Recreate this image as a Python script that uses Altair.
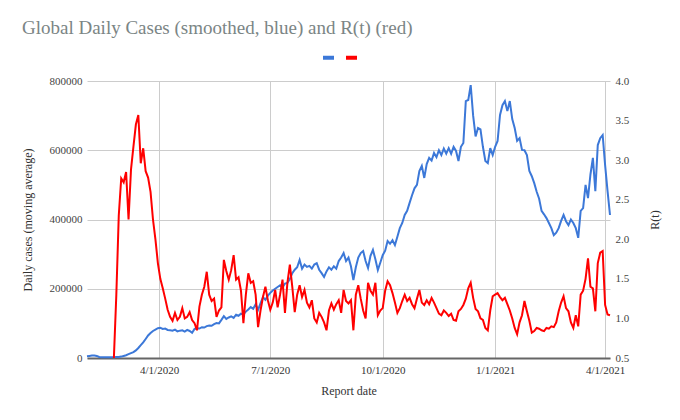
import altair as alt
import pandas as pd

title_text = "Global Daily Cases (smoothed, blue) and R(t) (red)"
series_names = ["Daily cases", "R(t)"]
series_colors = ["#3c78d8", "#ff0000"]
start_date = "2020-02-02"

# Daily cases (moving average), in thousands, every 2 days from 2020-02-02
cases_k = [
    5, 6, 7, 7, 6, 3, 2, 2, 2, 2,
    2, 2, 3, 3, 4, 6, 8, 11, 14, 17,
    22, 29, 37, 45, 55, 65, 72, 78, 82, 86,
    87, 84, 85, 81, 80, 79, 82, 77, 79, 80,
    76, 81, 78, 73, 84, 86, 85, 89, 88, 92,
    94, 93, 98, 101, 100, 110, 121, 113, 117, 120,
    116, 125, 122, 128, 126, 134, 140, 147, 142, 155,
    139, 158, 176, 168, 180, 188, 195, 200, 205, 210,
    203, 215, 217, 228, 245, 255, 262, 283, 258, 270,
    263, 266, 258, 270, 274, 255, 245, 234, 250, 262,
    255, 265, 258, 280, 290, 303, 280, 290, 265, 225,
    262, 290, 303, 309, 280, 260, 295, 312, 285, 254,
    275, 297, 310, 338, 330, 340, 326, 350, 375, 390,
    413, 425, 448, 470, 490, 500, 540, 555, 520, 560,
    578, 570, 592, 580, 600, 586, 605, 590, 606, 590,
    610, 598, 569, 610, 621, 742, 745, 788, 700, 640,
    664, 660, 610, 569, 563, 606, 586, 610, 627, 702,
    730, 742, 713, 742, 690, 664, 627, 635, 601, 600,
    586, 540, 525, 505, 480, 460, 425, 415, 404, 390,
    375, 355, 362, 375, 396, 413, 395, 384, 400, 390,
    375, 347, 425, 433, 500, 462, 530, 578, 482, 615,
    635, 644, 557, 482, 413,
]

# R(t), same 2-day dates, starting at the 12th date
rt_offset = 11
rt_values = [
    0.5, 1.30, 2.3, 2.77, 2.72, 2.85, 2.25, 2.88, 3.17, 3.45,
    3.57, 2.96, 3.15, 2.86, 2.78, 2.6, 2.25, 2.0, 1.7, 1.5,
    1.38, 1.25, 1.11, 1.02, 0.97, 1.07, 0.98, 1.02, 1.13, 1.0,
    1.02, 1.08, 0.98, 0.94, 0.85, 1.15, 1.30, 1.40, 1.59, 1.30,
    1.22, 1.25, 1.02, 1.10, 1.14, 1.74, 1.60, 1.49, 1.61, 1.80,
    1.49, 1.52, 1.35, 0.94, 1.30, 1.57, 1.45, 1.47, 1.30, 0.89,
    1.10, 1.27, 1.40, 1.23, 1.11, 1.20, 1.36, 1.14, 1.30, 1.49,
    1.07, 1.45, 1.68, 1.40, 1.08, 1.30, 1.42, 1.27, 1.36, 1.20,
    1.14, 1.23, 1.00, 0.95, 1.07, 1.02, 0.95, 0.85, 1.10, 1.19,
    1.11, 1.18, 1.23, 1.07, 1.36, 1.22, 1.19, 1.23, 0.85, 1.30,
    1.42, 1.25, 1.10, 1.00, 1.45, 1.35, 1.30, 1.45, 1.04, 1.10,
    1.13, 1.35, 1.47, 1.42, 1.32, 1.20, 1.07, 1.13, 1.22, 1.30,
    1.22, 1.26, 1.18, 1.13, 1.25, 1.36, 1.20, 1.17, 1.23, 1.18,
    1.26, 1.20, 1.13, 1.06, 1.04, 1.10, 1.07, 1.03, 1.06, 0.98,
    0.97, 1.09, 1.12, 1.17, 1.25, 1.38, 1.45, 1.26, 1.12, 1.09,
    1.00, 0.98, 0.88, 0.85, 1.10, 1.28, 1.30, 1.32, 1.27, 1.23,
    1.26, 1.18, 1.10, 1.00, 0.88, 0.80, 0.95, 1.04, 1.22, 1.09,
    0.97, 0.82, 0.84, 0.88, 0.87, 0.85, 0.84, 0.88, 0.87, 0.90,
    0.89, 0.95, 1.09, 1.20, 1.28, 1.13, 1.09, 0.95, 0.88, 1.04,
    0.90, 1.30, 1.35, 1.50, 1.76, 1.40, 1.38, 1.09, 1.70, 1.83,
    1.85, 1.17, 1.05, 1.04,
]

x_tick_dates = [(2020, 4, 1), (2020, 7, 1), (2020, 10, 1), (2021, 1, 1), (2021, 4, 1)]
cases_ticks = [0, 200000, 400000, 600000, 800000]
rt_ticks = [0.5, 1.0, 1.5, 2.0, 2.5, 3.0, 3.5, 4.0]

dates = pd.date_range(start_date, periods=len(cases_k), freq="2D").strftime("%Y-%m-%d")
df_cases = pd.DataFrame({"date": list(dates), "value": [v * 1000 for v in cases_k],
                         "series": series_names[0]})
df_rt = pd.DataFrame({"date": list(dates[rt_offset:rt_offset + len(rt_values)]),
                      "value": rt_values, "series": series_names[1]})

font = "Liberation Serif"

color = alt.Color(
    "series:N",
    scale=alt.Scale(domain=series_names, range=series_colors),
    legend=alt.Legend(
        title=None, orient="none", legendX=234, legendY=-31, direction="horizontal",
        symbolType="stroke", symbolSize=121, symbolStrokeWidth=4,
        labelExpr="''", labelOffset=0, columnPadding=-4, padding=0,
    ),
)

x = alt.X(
    "date:T",
    scale=alt.Scale(type="utc", nice=False),
    axis=alt.Axis(
        values=[alt.DateTime(year=y, month=m, date=d, utc=True) for (y, m, d) in x_tick_dates],
        labelExpr="utcFormat(datum.value, '%-m/%-d/%Y')", title="Report date",
        grid=True, gridColor="#cccccc", ticks=False,
        domainColor="#666666", domainWidth=2,
        labelPadding=6, titlePadding=10,
        labelFont=font, titleFont=font, labelFontSize=11, titleFontSize=12,
        labelColor="#333333", titleColor="#333333", titleFontWeight="normal",
    ),
)

cases_line = alt.Chart(df_cases).mark_line(strokeWidth=2).encode(
    x=x,
    y=alt.Y(
        "value:Q",
        scale=alt.Scale(domain=[0, 800000], nice=False, zero=False),
        axis=alt.Axis(
            values=cases_ticks, format="d", title="Daily cases (moving average)",
            grid=True, gridColor="#cccccc", domain=False, ticks=False,
            labelPadding=5, titlePadding=15,
            labelFont=font, titleFont=font, labelFontSize=11, titleFontSize=12,
            labelColor="#444444", titleColor="#333333", titleFontWeight="normal",
        ),
    ),
    color=color,
)

rt_line = alt.Chart(df_rt).mark_line(strokeWidth=2).encode(
    x=x,
    y=alt.Y(
        "value:Q",
        scale=alt.Scale(domain=[0.5, 4.0], nice=False, zero=False),
        axis=alt.Axis(
            orient="right", values=rt_ticks, format=".1f", title="R(t)",
            grid=False, domain=False, ticks=False,
            labelPadding=5, titlePadding=33, titleAngle=270,
            labelFont=font, titleFont=font, labelFontSize=11, titleFontSize=12,
            labelColor="#444444", titleColor="#333333", titleFontWeight="normal",
        ),
    ),
    color=color,
)

chart = alt.layer(cases_line, rt_line).resolve_scale(y="independent").properties(
    width=523,
    height=277,
    padding={"left": 79, "top": 73, "right": 55, "bottom": 50},
    autosize=alt.AutoSizeParams(type="none"),
    title=alt.TitleParams(
        text=title_text, anchor="start", frame="group", dx=-65, dy=-8,
        font=font, fontSize=19, fontWeight="normal", color="#7b8585",
    ),
).configure_view(stroke=None)

chart.save("out.html", embed_options={"renderer": "svg", "actions": False})
